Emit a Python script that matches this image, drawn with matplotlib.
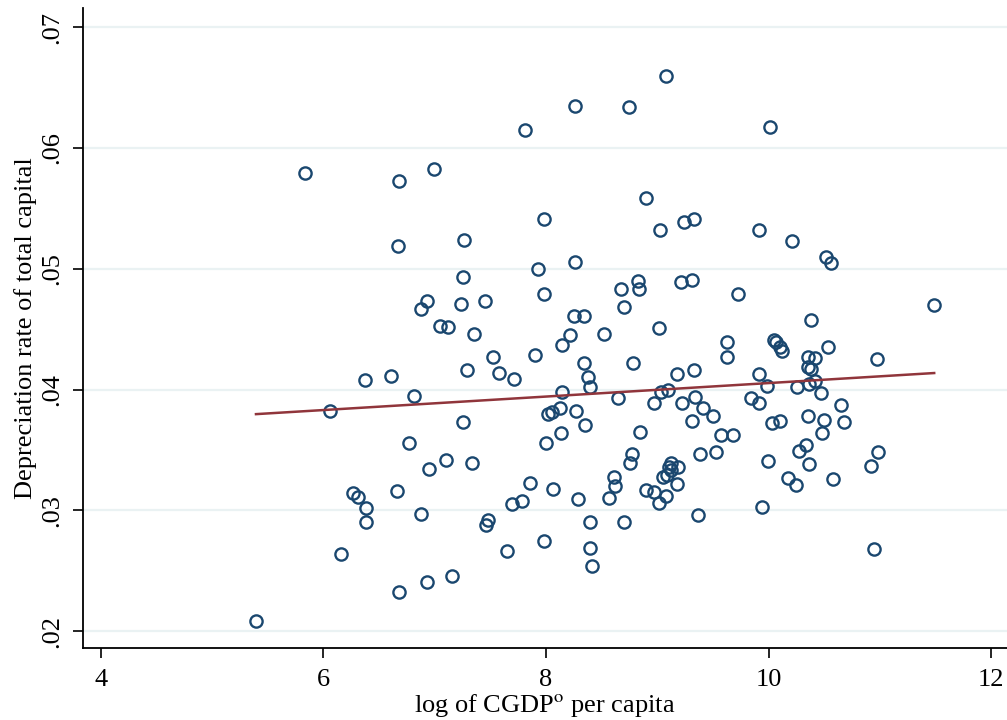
import numpy as np
import matplotlib
matplotlib.use("Agg")
import matplotlib.pyplot as plt
from matplotlib.ticker import FuncFormatter

# log of CGDPo per capita (x) and depreciation rate of total capital (y)
log_cgdp = [
    5.835, 6.679, 6.994, 6.670, 7.263, 7.254, 6.931, 6.877, 7.236, 7.452,
    7.048, 7.119, 7.353, 7.524, 7.290, 6.607, 6.374, 6.814, 6.059, 7.254,
    6.769, 7.102, 7.335, 6.949, 6.661, 6.266, 6.311, 6.383, 6.383, 6.877,
    7.479, 7.461, 6.158, 7.155, 6.931, 6.679, 5.394, 9.078, 8.261, 8.746,
    7.811, 8.898, 7.982, 9.240, 9.330, 9.024, 7.928, 8.261, 8.827, 8.836,
    8.674, 9.213, 9.312, 7.982, 9.725, 8.701, 8.252, 8.341, 8.216, 8.144,
    8.521, 9.015, 9.626, 9.626, 7.901, 7.578, 7.712, 8.341, 8.782, 8.377,
    8.395, 8.144, 8.647, 9.177, 9.330, 8.970, 9.033, 9.096, 9.222, 9.339,
    9.411, 9.500, 9.312, 8.126, 8.018, 8.054, 8.270, 8.350, 8.135, 8.000,
    8.845, 9.572, 9.680, 9.384, 9.527, 8.773, 8.755, 9.123, 9.105, 9.186,
    9.051, 9.087, 9.177, 9.123, 8.611, 8.620, 8.566, 8.898, 8.970, 9.078,
    9.015, 7.856, 8.063, 7.695, 7.784, 8.288, 8.395, 8.701, 9.366, 7.982,
    7.650, 8.395, 8.413, 10.013, 9.914, 10.210, 10.516, 10.561, 11.486, 10.381,
    10.049, 10.066, 10.102, 10.120, 10.534, 10.354, 10.417, 10.974, 10.354, 10.381,
    9.914, 9.986, 10.255, 10.363, 10.417, 10.471, 9.842, 9.914, 10.650, 10.354,
    10.498, 10.677, 10.031, 10.102, 10.480, 10.336, 10.273, 9.995, 10.363, 10.983,
    10.920, 10.174, 10.246, 10.579, 9.941, 10.947,
]
depr_rate = [
    0.0579, 0.0573, 0.0583, 0.0519, 0.0524, 0.0493, 0.0473, 0.0467, 0.0471, 0.0473,
    0.0453, 0.0452, 0.0446, 0.0427, 0.0416, 0.0411, 0.0408, 0.0395, 0.0382, 0.0373,
    0.0356, 0.0342, 0.0339, 0.0334, 0.0316, 0.0314, 0.0311, 0.0302, 0.0290, 0.0297,
    0.0292, 0.0288, 0.0264, 0.0246, 0.0241, 0.0232, 0.0208, 0.0660, 0.0635, 0.0634,
    0.0615, 0.0559, 0.0541, 0.0539, 0.0541, 0.0532, 0.0500, 0.0506, 0.0490, 0.0483,
    0.0483, 0.0489, 0.0491, 0.0479, 0.0479, 0.0468, 0.0461, 0.0461, 0.0445, 0.0437,
    0.0446, 0.0451, 0.0439, 0.0427, 0.0429, 0.0414, 0.0409, 0.0422, 0.0422, 0.0410,
    0.0402, 0.0398, 0.0393, 0.0413, 0.0416, 0.0389, 0.0398, 0.0400, 0.0389, 0.0394,
    0.0385, 0.0378, 0.0374, 0.0385, 0.0380, 0.0381, 0.0382, 0.0371, 0.0364, 0.0356,
    0.0365, 0.0362, 0.0362, 0.0347, 0.0348, 0.0347, 0.0339, 0.0339, 0.0336, 0.0336,
    0.0328, 0.0329, 0.0322, 0.0333, 0.0328, 0.0320, 0.0310, 0.0317, 0.0315, 0.0312,
    0.0306, 0.0323, 0.0318, 0.0305, 0.0308, 0.0309, 0.0290, 0.0290, 0.0296, 0.0275,
    0.0266, 0.0269, 0.0254, 0.0617, 0.0532, 0.0523, 0.0510, 0.0505, 0.0470, 0.0458,
    0.0441, 0.0439, 0.0435, 0.0432, 0.0435, 0.0427, 0.0426, 0.0425, 0.0419, 0.0417,
    0.0413, 0.0403, 0.0402, 0.0405, 0.0407, 0.0397, 0.0393, 0.0389, 0.0387, 0.0378,
    0.0375, 0.0373, 0.0372, 0.0374, 0.0364, 0.0354, 0.0349, 0.0341, 0.0338, 0.0348,
    0.0337, 0.0327, 0.0321, 0.0326, 0.0303, 0.0268,
]
x_ticks = [4, 6, 8, 10, 12]
y_ticks = [0.02, 0.03, 0.04, 0.05, 0.06, 0.07]

NAVY = "#1a476f"
MAROON = "#90353b"
GRID = "#eaf2f3"

plt.rcParams["font.family"] = ["Liberation Serif", "DejaVu Serif"]
plt.rcParams["mathtext.fontset"] = "stix"

x = np.array(log_cgdp)
y = np.array(depr_rate)

# linear fit line over the data range
slope, intercept = np.polyfit(x, y, 1)
xs = np.array([x.min(), x.max()])

fig = plt.figure(figsize=(10.07, 7.2), dpi=100)
ax = fig.add_axes([0.0824, 0.1, 0.9176, 0.889])

for yt in y_ticks:
    ax.axhline(yt, color=GRID, lw=1.6, zorder=0)

ax.plot(x, y, "o", ls="none", ms=8.8, mfc="none", mec=NAVY, mew=1.7, zorder=2)
ax.plot(xs, intercept + slope * xs, color=MAROON, lw=1.8, zorder=3)

ax.set_xlim(3.84, 12.14)
ax.set_ylim(0.0186, 0.0716)
ax.set_xticks(x_ticks)
ax.set_yticks(y_ticks)
ax.yaxis.set_major_formatter(FuncFormatter(lambda v, p: ("%.2f" % v).lstrip("0")))
ax.tick_params(axis="both", direction="out", length=7, width=1.2, labelsize=19, color="black")
ax.tick_params(axis="x", pad=8)
ax.tick_params(axis="y", pad=7)
for lab in ax.get_yticklabels():
    lab.set_rotation(90)
    lab.set_va("center")

ax.spines["top"].set_visible(False)
ax.spines["right"].set_visible(False)
ax.spines["left"].set_linewidth(1.3)
ax.spines["bottom"].set_linewidth(1.3)

ax.set_xlabel(r"log of CGDP$^{\rm o}$ per capita", fontsize=19, labelpad=1)
ax.set_ylabel("Depreciation rate of total capital", fontsize=19, labelpad=3)

fig.savefig("out.png", dpi=100, facecolor="white")
